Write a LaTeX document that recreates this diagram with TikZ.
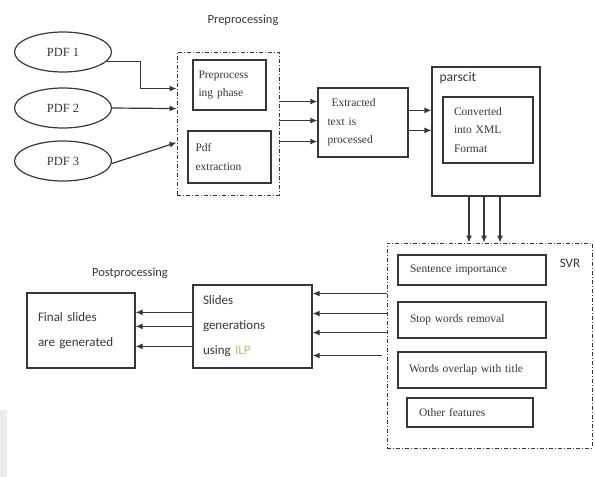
\documentclass[tikz,border=0pt]{standalone}
\usepackage{fontspec}
\setmainfont{Liberation Serif}
\newfontfamily\labfont{Carlito}
\usetikzlibrary{shapes.geometric,calc,arrows.meta}
\definecolor{ln}{RGB}{55,55,55}
\definecolor{tx}{RGB}{55,55,55}
\definecolor{ilp}{RGB}{200,190,90}
\tikzset{
  box/.style={draw=ln, line width=1.2pt, rectangle, align=left, text=tx, font=\fontsize{11.5}{18.5}\selectfont, anchor=center},
  sbox/.style={draw=ln, line width=1.2pt, rectangle, align=left, text=tx, font=\labfont\fontsize{13}{25}\selectfont, anchor=center},
  dbox/.style={draw=ln, line width=0.9pt, dash pattern=on 4pt off 2pt on 1pt off 2pt, rectangle, anchor=center},
  pdf/.style={draw=ln, line width=1.2pt, ellipse, minimum width=97pt, minimum height=40pt, text=tx, font=\fontsize{12.5}{14}\selectfont},
  lab/.style={text=tx, font=\labfont\fontsize{12.5}{14}\selectfont, inner sep=0pt},
  arr/.style={draw=ln, line width=1.2pt, -{Latex[length=7pt,width=6pt]}}
}
\begin{document}
\begin{tikzpicture}[x=1pt,y=-1pt]
\useasboundingbox (0,0) rectangle (595,477);
\fill[gray!14] (0,410) rectangle (7,477);

% PDFs
\node[pdf] (pdf1) at (63,52) {PDF 1};
\node[pdf] (pdf2) at (63,108) {PDF 2};
\node[pdf] (pdf3) at (63,161) {PDF 3};

% Preprocessing
\node[lab] (prelab) at (243,20) {Preprocessing};
\node[dbox, minimum width=102pt, minimum height=143pt] (pre) at (228,123.5) {};
\node[box, minimum width=73pt, minimum height=50pt, text width=62pt, inner xsep=5.5pt] (pph) at (229.5,85) {Preprocess\\ing phase};
\node[box, minimum width=83pt, minimum height=52pt, text width=68pt, inner xsep=7.5pt] (pdfx) at (229.5,157) {Pdf\\extraction};

% Extracted
\node[box, minimum width=90pt, minimum height=69pt, text width=71pt, inner xsep=9.5pt] (ext) at (363,122.5) {\hspace*{4pt}Extracted\\text is\\processed};

% parscit
\node[draw=ln, line width=1.2pt, minimum width=108pt, minimum height=129pt] (parscit) at (486,131.5) {};
\node[lab, anchor=north west, font=\labfont\fontsize{13.5}{14}\selectfont] (parlab) at ($(parscit.north west)+(8,6)$) {parscit};
\node[box, minimum width=90pt, minimum height=66pt, text width=68pt, inner xsep=11pt] (conv) at (488,130) {Converted\\into XML\\Format};

% SVR
\node[dbox, minimum width=205pt, minimum height=205pt] (svr) at (489.5,345.5) {};
\node[lab, font=\labfont\fontsize{13}{14}\selectfont] (svrlab) at (570,263) {SVR};
\node[box, minimum width=148pt, minimum height=30pt, text width=124pt, inner xsep=12pt] (s1) at (472,270) {Sentence importance};
\node[box, minimum width=148pt, minimum height=36pt, text width=124pt, inner xsep=12pt] (s2) at (472,320) {Stop words removal};
\node[box, minimum width=148pt, minimum height=36pt, text width=126pt, inner xsep=11pt] (s3) at (472,370) {Words overlap with title};
\node[box, minimum width=126pt, minimum height=29pt, text width=102pt, inner xsep=12pt] (s4) at (470,412.5) {Other features};

% Postprocessing
\node[lab] (postlab) at (130,273) {Postprocessing};
\node[sbox, minimum width=119pt, minimum height=83pt, text width=99pt, inner xsep=10pt] (slides) at (252.5,326.5) {Slides\\generations\\using {\color{ilp}ILP}};
\node[sbox, minimum width=108pt, minimum height=75pt, text width=86pt, inner xsep=11pt] (final) at (81,330.5) {Final slides\\are generated};

% connectors PDFs -> preprocessing
\draw[arr] (pdf1.-12) -- ++(34,0) coordinate (k1) |- ($(pre.north west)+(0,37)$);
\draw[arr] (pdf2.east) -- ($(pre.north west)+(0,57)$);
\draw[arr] (pdf3.-3) -- ($(pre.north west)+(0,91)$);

% preprocessing -> extracted
\draw[arr] ($(pre.north east)+(0,50)$) coordinate (a1) -- (ext.west |- a1);
\draw[arr] ($(pre.north east)+(0,69)$) coordinate (a2) -- (ext.west |- a2);
\draw[arr] ($(pre.north east)+(0,90)$) coordinate (a3) -- (ext.west |- a3);

% extracted -> parscit
\draw[arr] ($(ext.north east)+(0,23)$) coordinate (c1) -- (parscit.west |- c1);
\draw[arr] ($(ext.north east)+(0,43)$) coordinate (c2) -- (parscit.west |- c2);

% parscit -> SVR
\draw[arr] ($(parscit.south)+(-17,0)$) coordinate (b1) -- (svr.north -| b1);
\draw[arr] ($(parscit.south)+(-2,0)$) coordinate (b2) -- (svr.north -| b2);
\draw[arr] ($(parscit.south)+(14,0)$) coordinate (b3) -- (svr.north -| b3);

% SVR -> slides
\draw[arr] ($(svr.north west)+(0,51)$) coordinate (d1) -- (slides.east |- d1);
\draw[arr] ($(svr.north west)+(0,71)$) coordinate (d2) -- (slides.east |- d2);
\draw[arr] ($(svr.north west)+(0,90)$) coordinate (d3) -- (slides.east |- d3);
\draw[arr] ($(svr.north west)+(-5,113)$) coordinate (d4) -- (slides.east |- d4);

% slides -> final
\draw[arr] ($(slides.north west)+(0,28)$) coordinate (e1) -- (final.east |- e1);
\draw[arr] ($(slides.north west)+(0,42)$) coordinate (e2) -- (final.east |- e2);
\draw[arr] ($(slides.north west)+(0,62)$) coordinate (e3) -- (final.east |- e3);
\end{tikzpicture}
\end{document}
